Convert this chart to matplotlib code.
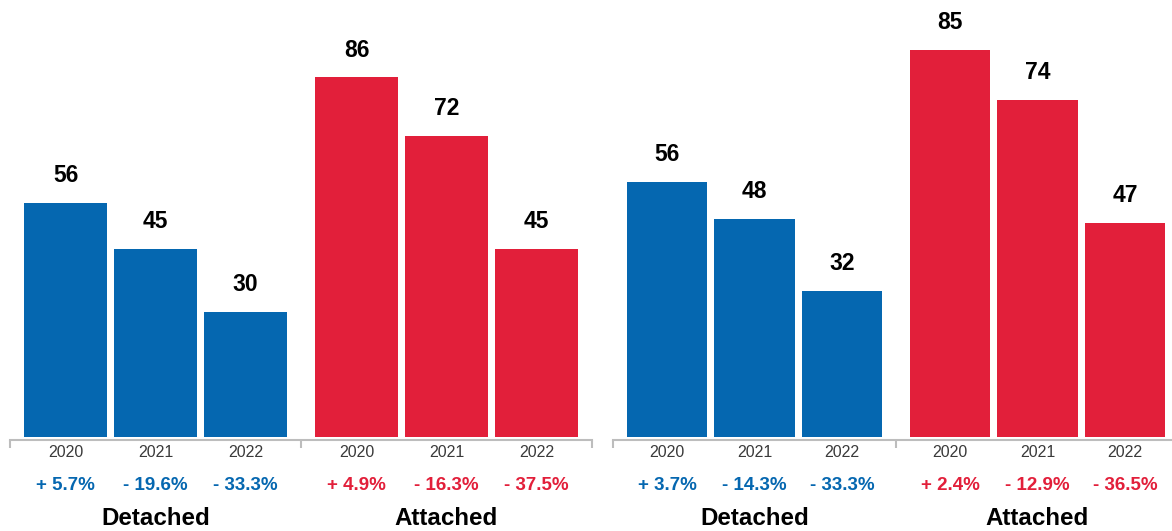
import matplotlib
matplotlib.use('Agg')
import matplotlib.pyplot as plt

plt.rcParams['font.family'] = ['Liberation Sans', 'DejaVu Sans']

# data
years = ['2020', '2021', '2022']
types = ['Detached', 'Attached']

left_detached = [56, 45, 30]
left_attached = [86, 72, 45]
left_detached_chg = ['+ 5.7%', '- 19.6%', '- 33.3%']
left_attached_chg = ['+ 4.9%', '- 16.3%', '- 37.5%']

right_detached = [56, 48, 32]
right_attached = [85, 74, 47]
right_detached_chg = ['+ 3.7%', '- 14.3%', '- 33.3%']
right_attached_chg = ['+ 2.4%', '- 12.9%', '- 36.5%']

BLUE = '#0567b0'
RED = '#e21f3a'
GREY = '#bdbdbd'

W, H = 1172, 531
fig = plt.figure(figsize=(W / 100, H / 100), dpi=100)


def panel(x0, x1, ymax, groups, changes):
    '''
    draws one panel of two bar groups
        @param x0, x1: left/right edge of the axis line in pixels
        @param ymax: value at the top of the figure
        @param groups: list of value lists, one per housing type
        @param changes: list of percentage change labels, one per housing type
    '''
    axis_y = 440  # pixel row of the axis line
    base_y = 437  # pixel row where bars start
    ax = fig.add_axes([x0 / W, (H - axis_y) / H, (x1 - x0) / W, axis_y / H])
    px_per_unit = base_y / ymax
    ax.set_ylim(-(axis_y - base_y) / px_per_unit, ymax)
    ax.set_xlim(0, len(groups))

    step = 0.309
    width = 0.285
    colors = [BLUE, RED]
    for g, (vals, chg) in enumerate(zip(groups, changes)):
        col = colors[g]
        for j, (v, yr, c) in enumerate(zip(vals, years, chg)):
            x = g + 0.5 + (j - 1) * step
            ax.bar(x, v, width=width, color=col, linewidth=0)
            ax.annotate(str(v), xy=(x, v), xytext=(0, 15), textcoords='offset points',
                        ha='center', va='baseline', fontsize=16.5, fontweight='bold',
                        color='black')
            ax.annotate(yr, xy=(x, 0), xycoords=('data', 'axes fraction'),
                        xytext=(0, -9), textcoords='offset points',
                        ha='center', va='center', fontsize=11.5, color='#3a3a3a',
                        annotation_clip=False)
            ax.annotate(c, xy=(x, 0), xycoords=('data', 'axes fraction'),
                        xytext=(0, -32.4), textcoords='offset points',
                        ha='center', va='center', fontsize=13.5, fontweight='bold',
                        color=col, annotation_clip=False)
        ax.annotate(types[g], xy=(g + 0.5, 0), xycoords=('data', 'axes fraction'),
                    xytext=(0, -61.2), textcoords='offset points',
                    ha='center', va='baseline', fontsize=17.4, fontweight='bold',
                    color='black', annotation_clip=False)

    for s in ['top', 'left', 'right']:
        ax.spines[s].set_visible(False)
    ax.spines['bottom'].set_color(GREY)
    ax.spines['bottom'].set_linewidth(1.5)
    ax.set_yticks([])
    ax.set_xticks(range(len(groups) + 1))
    ax.set_xticklabels([])
    ax.tick_params(axis='x', direction='out', length=5.8, width=1.5, color=GREY)
    ax.patch.set_visible(False)
    return ax


panel(10, 592, 104.5, [left_detached, left_attached],
      [left_detached_chg, left_attached_chg])
panel(613, 1179, 96.0, [right_detached, right_attached],
      [right_detached_chg, right_attached_chg])

fig.savefig('out.png', dpi=100)
